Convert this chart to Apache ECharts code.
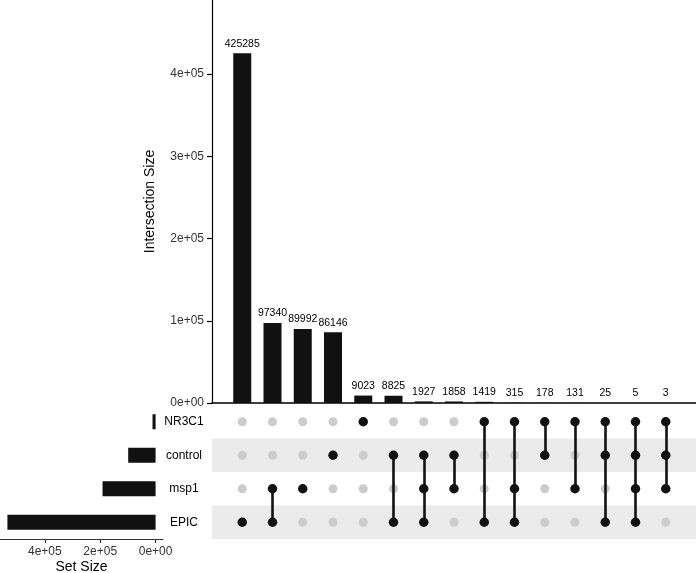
<!DOCTYPE html>
<html>
<head>
<meta charset="utf-8">
<script src="https://cdn.jsdelivr.net/npm/echarts@6/dist/echarts.min.js"></script>
<style>
  html, body { margin: 0; padding: 0; background: #fff; }
  #chart { width: 696px; height: 573px; }
</style>
</head>
<body>
<div id="chart"></div>
<script>
// sets, top to bottom in the matrix
const setNames = ['NR3C1', 'control', 'msp1', 'EPIC'];
const setSizes = [11099, 98967, 191571, 535141];

// intersections, left to right
const intersectionSizes = [425285, 97340, 89992, 86146, 9023, 8825, 1927, 1858, 1419, 315, 178, 131, 25, 5, 3];
const intersectionMembers = [
  ['EPIC'],
  ['msp1', 'EPIC'],
  ['msp1'],
  ['control'],
  ['NR3C1'],
  ['control', 'EPIC'],
  ['control', 'msp1', 'EPIC'],
  ['control', 'msp1'],
  ['NR3C1', 'EPIC'],
  ['NR3C1', 'msp1', 'EPIC'],
  ['NR3C1', 'control'],
  ['NR3C1', 'msp1'],
  ['NR3C1', 'control', 'EPIC'],
  ['NR3C1', 'control', 'msp1', 'EPIC'],
  ['NR3C1', 'control', 'msp1']
];

const setTicks = [0, 200000, 400000];

const FONT = 'Liberation Sans';

function sci(v) {
  // 4e+05 style, like R
  let s = Number(v).toExponential(0);
  let parts = s.split('e');
  let exp = parseInt(parts[1], 10);
  let sign = exp < 0 ? '-' : '+';
  let e = String(Math.abs(exp)).padStart(2, '0');
  return parts[0] + 'e' + sign + e;
}

// matrix points
let greyDots = [];
let blackDots = [];
let links = [];
intersectionMembers.forEach(function (members, i) {
  let rows = [];
  setNames.forEach(function (name, r) {
    if (members.indexOf(name) >= 0) {
      blackDots.push([i + 1, r + 0.5]);
      rows.push(r);
    } else {
      greyDots.push([i + 1, r + 0.5]);
    }
  });
  if (rows.length > 1) {
    links.push({ coords: [[i + 1, Math.min(...rows) + 0.5], [i + 1, Math.max(...rows) + 0.5]] });
  }
});

let barData = intersectionSizes.map(function (v, i) { return [i + 1, v]; });

let option = {
  animation: false,
  textStyle: { fontFamily: FONT },
  grid: [
    { left: 212, top: 0, width: 484, height: 403, outerBoundsMode: 'none' },   // intersection bars
    { left: 212, top: 405, width: 484, height: 134, outerBoundsMode: 'none' }, // matrix
    { left: 0, top: 405, width: 163, height: 134, outerBoundsMode: 'none' }    // set sizes
  ],
  xAxis: [
    {
      gridIndex: 0, type: 'value', min: 0, max: 16,
      axisLine: { show: true, onZero: false, lineStyle: { color: '#000', width: 1.5 } },
      axisTick: { show: false }, axisLabel: { show: false }, splitLine: { show: false }
    },
    {
      gridIndex: 1, type: 'value', min: 0, max: 16, show: false
    },
    {
      gridIndex: 2, type: 'value', inverse: true, min: -26757, max: 561898,
      name: 'Set Size', nameLocation: 'middle', nameGap: 21,
      nameTextStyle: { fontSize: 14, color: '#000', fontFamily: FONT },
      axisLine: { show: true, onZero: false, lineStyle: { color: '#333', width: 1.2 } },
      axisTick: { show: true, length: 4, customValues: setTicks, lineStyle: { color: '#333', width: 1.2 } },
      axisLabel: { customValues: setTicks, formatter: sci, fontSize: 12, color: '#333', margin: 7, fontFamily: FONT },
      splitLine: { show: false }
    }
  ],
  yAxis: [
    {
      gridIndex: 0, type: 'value', min: 0, max: 490000, interval: 100000,
      name: 'Intersection Size', nameLocation: 'middle', nameGap: 55,
      nameTextStyle: { fontSize: 14, color: '#000', fontFamily: FONT },
      axisLine: { show: true, lineStyle: { color: '#000', width: 1.2 } },
      axisTick: { show: true, length: 5, lineStyle: { color: '#000', width: 1.2 } },
      axisLabel: { formatter: sci, fontSize: 12, color: '#333', margin: 8, fontFamily: FONT, showMaxLabel: false },
      splitLine: { show: false }
    },
    {
      gridIndex: 1, type: 'value', min: 0, max: 4, inverse: true, show: false
    },
    {
      gridIndex: 2, type: 'category', data: setNames, inverse: true, position: 'right',
      axisLine: { show: false }, axisTick: { show: false },
      axisLabel: { align: 'center', margin: 21, fontSize: 12, color: '#000', fontFamily: FONT }
    }
  ],
  series: [
    {
      type: 'bar', xAxisIndex: 0, yAxisIndex: 0, data: barData, barWidth: 18,
      itemStyle: { color: '#111' },
      label: { show: true, position: 'top', distance: 4, fontSize: 10.5, color: '#000', fontFamily: FONT,
        formatter: function (p) { return p.value[1]; } }
    },
    {
      type: 'scatter', xAxisIndex: 1, yAxisIndex: 1, data: greyDots, symbolSize: 9, z: 2,
      itemStyle: { color: '#cccccc', opacity: 1 },
      markArea: {
        silent: true,
        itemStyle: { color: '#ebebeb' },
        data: [
          [{ yAxis: 1 }, { yAxis: 2 }],
          [{ yAxis: 3 }, { yAxis: 4 }]
        ]
      }
    },
    {
      type: 'lines', coordinateSystem: 'cartesian2d', xAxisIndex: 1, yAxisIndex: 1, data: links, z: 3,
      lineStyle: { color: '#111', width: 2.6, opacity: 1 }
    },
    {
      type: 'scatter', xAxisIndex: 1, yAxisIndex: 1, data: blackDots, symbolSize: 9.5, z: 4,
      itemStyle: { color: '#111', opacity: 1 }
    },
    {
      type: 'bar', xAxisIndex: 2, yAxisIndex: 2, data: setSizes, barWidth: 15,
      itemStyle: { color: '#111' }
    }
  ]
};

let myChart = echarts.init(document.getElementById('chart'));
myChart.setOption(option);
</script>
</body>
</html>
